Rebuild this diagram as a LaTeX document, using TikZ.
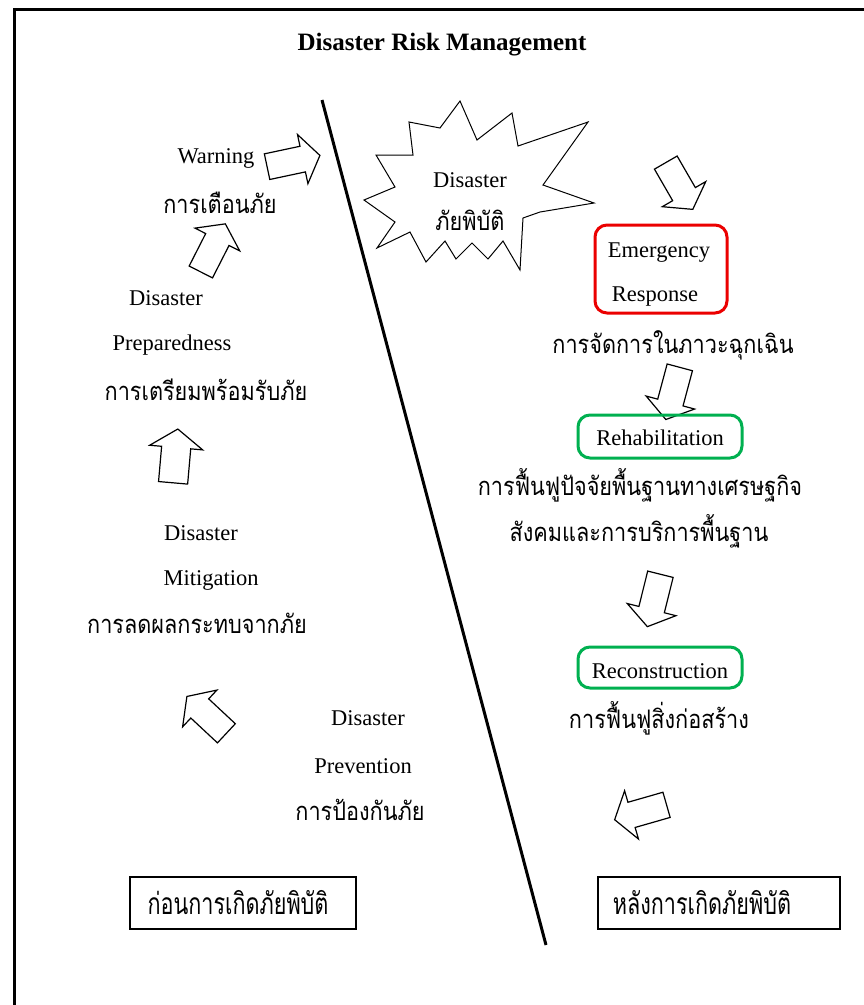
\documentclass[tikz,border=0pt]{standalone}
\usepackage{fontspec}
\setmainfont{Liberation Serif}
\newfontfamily\thai[Script=Thai,FakeStretch=0.85]{Loma}
\newfontfamily\thaic[Script=Thai,FakeStretch=0.72]{Loma}
\usetikzlibrary{shapes.arrows}
\definecolor{dgreen}{RGB}{0,176,80}
\definecolor{dred}{RGB}{235,0,0}
\begin{document}
\begin{tikzpicture}[x=1pt,y=-1pt,
  en/.style={font=\fontsize{22.5}{27}\selectfont, inner sep=0pt},
  th/.style={font=\thai\fontsize{25.5}{30}\selectfont, inner sep=0pt},
  thc/.style={font=\thaic\fontsize{30}{34}\selectfont, inner sep=0pt},
  blk/.style={single arrow, draw, line width=1.2pt, fill=white, minimum height=54pt,
    inner xsep=0pt, inner ysep=12.5pt, single arrow head extend=12pt, single arrow tip angle=110},
  rbox/.style={draw, line width=3pt, rounded corners=12pt, inner sep=0pt},
  sbox/.style={draw, line width=1.5pt, inner sep=0pt, minimum height=52pt}]
\useasboundingbox (0,0) rectangle (864,1005);
% frame
\draw[line width=3pt] (14,1005) -- (14,9) -- (864,9);
% title
\node[font=\bfseries\fontsize{25}{30}\selectfont, inner sep=0pt] (title) at (442,45) {Disaster Risk Management};
% divider
\coordinate (dtop) at (322,100);
\coordinate (dbot) at (546,945);
\draw[line width=3pt] (dtop) -- (dbot);
% starburst
\draw[line width=1pt, fill=white] (460,101) -- (477,140) -- (512,113) -- (518,146) -- (588,122)
  -- (543,185) -- (594,203) -- (540,212) -- (523,218) -- (520,270) -- (503,241) -- (488,259)
  -- (472,243) -- (456,259) -- (445,241) -- (426,262) -- (410,232) -- (377,248) -- (395,222)
  -- (364,200) -- (395,187) -- (376,155) -- (413,155) -- (409,122) -- (440,128) -- cycle;
\node[en] (dis) at (470,180) {Disaster};
\node[th] (disth) at (470,220) {ภัยพิบัติ};
% left side
\node[en] (warn) at (216,158) {Warning};
\node[th] (warnth) at (220,203) {การเตือนภัย};
\node[en] (prep1) at (166,298) {Disaster};
\node[en] (prep2) at (172,345) {Preparedness};
\node[th] (prepth) at (206,390) {การเตรียมพร้อมรับภัย};
\node[en] (mit1) at (201,533) {Disaster};
\node[en] (mit2) at (211,580) {Mitigation};
\node[th] (mitth) at (197,623) {การลดผลกระทบจากภัย};
\node[en] (prev1) at (368,718) {Disaster};
\node[en] (prev2) at (363,766) {Prevention};
\node[th] (prevth) at (360,810) {การป้องกันภัย};
% arrows left
\node[blk, rotate=12] (a1) at (289,162) {};
\node[blk, rotate=63] (a2) at (211,252) {};
\node[blk, rotate=85, inner ysep=14pt, single arrow head extend=12pt] (a3) at (175,461) {};
\node[blk, rotate=137] (a4) at (210,718) {};
% right side
\node[blk, rotate=-60] (a5) at (677,182) {};
\node[rbox, draw=dred, minimum width=132pt, minimum height=88pt] (er) at (661,269) {};
\node[en] (er1) at (659,253) {Emergency};
\node[en] (er2) at (655,297) {Response};
\node[th] (erth) at (673,345) {การจัดการในภาวะฉุกเฉิน};
\node[blk, rotate=-105] (a6) at (674,389) {};
\node[rbox, draw=dgreen, minimum width=164pt, minimum height=43pt] (rh) at (660,436.5) {};
\node[en] (rh1) at (660,438) {Rehabilitation};
\node[th] (rhth1) at (640,485) {การฟื้นฟูปัจจัยพื้นฐานทางเศรษฐกิจ};
\node[th] (rhth2) at (639,531) {สังคมและการบริการพื้นฐาน};
\node[blk, rotate=-104] (a7) at (655,596) {};
\node[rbox, draw=dgreen, minimum width=164pt, minimum height=41pt] (rc) at (660,667.5) {};
\node[en] (rc1) at (660,671) {Reconstruction};
\node[th] (rcth) at (659,718) {การฟื้นฟูสิ่งก่อสร้าง};
\node[blk, rotate=196] (a8) at (645,811) {};
% bottom boxes
\node[sbox, minimum width=226pt] (before) at (243,903) {};
\node[thc] (beforet) at (238,903) {ก่อนการเกิดภัยพิบัติ};
\node[sbox, minimum width=242pt] (after) at (719,903) {};
\node[thc] (aftert) at (702,903) {หลังการเกิดภัยพิบัติ};
\end{tikzpicture}
\end{document}
